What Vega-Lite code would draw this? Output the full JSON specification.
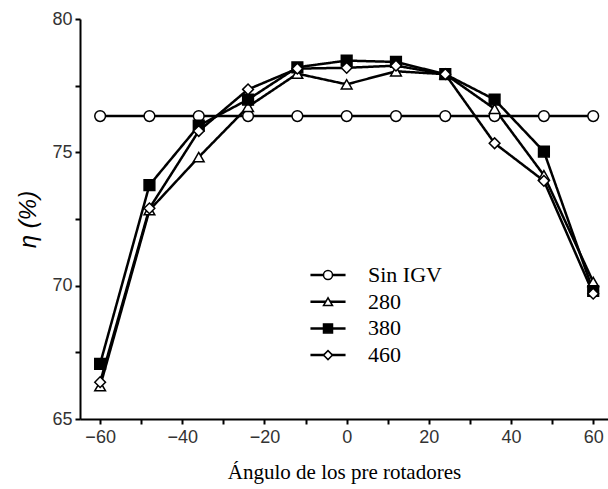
{
  "$schema": "https://vega.github.io/schema/vega-lite/v6.json",
  "width": 528,
  "height": 400,
  "autosize": {"type": "none"},
  "padding": {"left": 80, "top": 19, "right": 0, "bottom": 70},
  "background": "white",
  "config": {
    "view": {"stroke": null},
    "axis": {
      "grid": false,
      "domainColor": "black",
      "domainWidth": 2,
      "tickColor": "black",
      "tickWidth": 2,
      "tickSize": 5,
      "labelFont": "Liberation Sans",
      "labelFontSize": 18,
      "labelColor": "#333333"
    }
  },
  "data": {
    "values": [
      {"angle": -60, "eta": 76.36, "series": "Sin IGV"},
      {"angle": -48, "eta": 76.36, "series": "Sin IGV"},
      {"angle": -36, "eta": 76.36, "series": "Sin IGV"},
      {"angle": -24, "eta": 76.36, "series": "Sin IGV"},
      {"angle": -12, "eta": 76.36, "series": "Sin IGV"},
      {"angle": 0, "eta": 76.36, "series": "Sin IGV"},
      {"angle": 12, "eta": 76.36, "series": "Sin IGV"},
      {"angle": 24, "eta": 76.36, "series": "Sin IGV"},
      {"angle": 36, "eta": 76.36, "series": "Sin IGV"},
      {"angle": 48, "eta": 76.36, "series": "Sin IGV"},
      {"angle": 60, "eta": 76.36, "series": "Sin IGV"},
      {"angle": -60, "eta": 66.23, "series": "280"},
      {"angle": -48, "eta": 72.83, "series": "280"},
      {"angle": -36, "eta": 74.82, "series": "280"},
      {"angle": -24, "eta": 76.71, "series": "280"},
      {"angle": -12, "eta": 77.95, "series": "280"},
      {"angle": 0, "eta": 77.55, "series": "280"},
      {"angle": 12, "eta": 78.04, "series": "280"},
      {"angle": 24, "eta": 77.93, "series": "280"},
      {"angle": 36, "eta": 76.63, "series": "280"},
      {"angle": 48, "eta": 74.14, "series": "280"},
      {"angle": 60, "eta": 70.14, "series": "280"},
      {"angle": -60, "eta": 67.07, "series": "380"},
      {"angle": -48, "eta": 73.77, "series": "380"},
      {"angle": -36, "eta": 76.0, "series": "380"},
      {"angle": -24, "eta": 76.98, "series": "380"},
      {"angle": -12, "eta": 78.19, "series": "380"},
      {"angle": 0, "eta": 78.44, "series": "380"},
      {"angle": 12, "eta": 78.39, "series": "380"},
      {"angle": 24, "eta": 77.93, "series": "380"},
      {"angle": 36, "eta": 76.98, "series": "380"},
      {"angle": 48, "eta": 75.03, "series": "380"},
      {"angle": 60, "eta": 69.8, "series": "380"},
      {"angle": -60, "eta": 66.38, "series": "460"},
      {"angle": -48, "eta": 72.9, "series": "460"},
      {"angle": -36, "eta": 75.8, "series": "460"},
      {"angle": -24, "eta": 77.36, "series": "460"},
      {"angle": -12, "eta": 78.14, "series": "460"},
      {"angle": 0, "eta": 78.17, "series": "460"},
      {"angle": 12, "eta": 78.25, "series": "460"},
      {"angle": 24, "eta": 77.93, "series": "460"},
      {"angle": 36, "eta": 75.34, "series": "460"},
      {"angle": 48, "eta": 73.93, "series": "460"},
      {"angle": 60, "eta": 69.7, "series": "460"}
    ]
  },
  "encoding": {
    "x": {
      "field": "angle",
      "type": "quantitative",
      "scale": {"domain": [-64.9, 63.6], "nice": false, "zero": false},
      "axis": {
        "values": [-60, -50, -40, -30, -20, -10, 0, 10, 20, 30, 40, 50, 60],
        "labelExpr": "datum.value % 20 === 0 ? datum.label : ''",
        "labelPadding": 4,
        "title": "Ángulo de los pre rotadores",
        "titleFont": "Liberation Serif",
        "titleFontSize": 21,
        "titleFontWeight": "normal",
        "titleColor": "black",
        "titlePadding": 15
      }
    },
    "y": {
      "field": "eta",
      "type": "quantitative",
      "scale": {"domain": [65, 80], "nice": false, "zero": false},
      "axis": {
        "values": [65, 67.5, 70, 72.5, 75, 77.5, 80],
        "labelExpr": "datum.value % 5 === 0 ? datum.label : ''",
        "labelPadding": 3,
        "title": "η (%)",
        "titleFont": "Liberation Sans",
        "titleFontSize": 24,
        "titleFontStyle": "italic",
        "titleFontWeight": "normal",
        "titleColor": "black",
        "titlePadding": 11
      }
    }
  },
  "layer": [
    {
      "mark": {"type": "line", "stroke": "black", "strokeWidth": 2.5},
      "encoding": {
        "strokeDash": {
          "field": "series",
          "type": "nominal",
          "sort": ["Sin IGV", "280", "380", "460"],
          "scale": {"range": [[1, 0], [1, 0], [1, 0], [1, 0]]},
          "legend": {
            "orient": "none",
            "legendX": 237,
            "legendY": 245,
            "zindex": 0,
            "title": null,
            "padding": 0,
            "symbolType": "M-3.9,0H3.9",
            "symbolSize": 81,
            "symbolStrokeColor": "black",
            "symbolStrokeWidth": 2.5,
            "symbolOpacity": 1,
            "labelFont": "Liberation Serif",
            "labelFontSize": 22,
            "labelColor": "black",
            "labelOffset": 29,
            "labelExpr": "''",
            "rowPadding": 4.7
          }
        }
      }
    },
    {
      "mark": {"type": "point", "filled": true, "stroke": "black", "strokeWidth": 1.5, "size": 115, "opacity": 1},
      "encoding": {
        "shape": {
          "field": "series",
          "type": "nominal",
          "scale": {"domain": ["Sin IGV", "280", "380", "460"], "range": ["circle", "triangle-up", "square", "diamond"]},
          "legend": {
            "orient": "none",
            "legendX": 237,
            "legendY": 245,
            "zindex": 1,
            "title": null,
            "padding": 0,
            "symbolSize": 81,
            "symbolStrokeColor": "black",
            "symbolStrokeWidth": 1.5,
            "symbolOpacity": 1,
            "labelFont": "Liberation Serif",
            "labelFontSize": 22,
            "labelColor": "black",
            "labelOffset": 29,
            "rowPadding": 4.7,
            "encoding": {"symbols": {"stroke": {"value": "black"}, "strokeWidth": {"value": 1.5}}}
          }
        },
        "fill": {
          "field": "series",
          "type": "nominal",
          "scale": {"domain": ["Sin IGV", "280", "380", "460"], "range": ["white", "white", "black", "white"]},
          "legend": {
            "orient": "none",
            "legendX": 237,
            "legendY": 245,
            "zindex": 1,
            "title": null,
            "padding": 0,
            "symbolSize": 81,
            "symbolStrokeColor": "black",
            "symbolStrokeWidth": 1.5,
            "symbolOpacity": 1,
            "labelFont": "Liberation Serif",
            "labelFontSize": 22,
            "labelColor": "black",
            "labelOffset": 29,
            "rowPadding": 4.7,
            "encoding": {"symbols": {"stroke": {"value": "black"}, "strokeWidth": {"value": 1.5}}}
          }
        }
      }
    }
  ]
}
